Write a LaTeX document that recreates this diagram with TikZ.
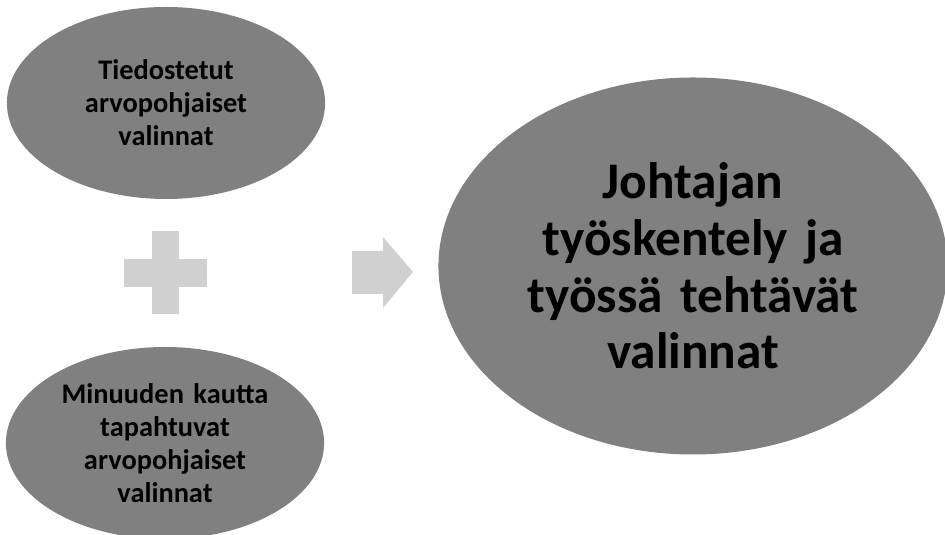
\documentclass[tikz,border=0pt]{standalone}
\usepackage{fontspec}
\setmainfont{Carlito}
\usetikzlibrary{shapes.geometric}
\definecolor{pallogray}{HTML}{808080}
\definecolor{merkkigray}{HTML}{D0D0D0}
\hyphenpenalty=10000
\exhyphenpenalty=10000

\begin{document}
\begin{tikzpicture}[x=1bp, y=1bp,
  pallo/.style={ellipse, fill=pallogray, inner sep=0pt, align=center, font=\bfseries},
  pieni/.style={pallo, text width=225bp, font=\bfseries\fontsize{28.5}{33}\selectfont},
  iso/.style={pallo, text width=360bp, font=\bfseries\fontsize{51.5}{57}\selectfont}]
\useasboundingbox (0,0) rectangle (945,535);
\clip (0,0) rectangle (945,535);
% Left side
\node[pieni, minimum width=305bp, minimum height=192bp] (tiedostetut) at (166,432) {Tiedostetut arvopohjaiset valinnat};
\node[pieni, minimum width=314bp, minimum height=192bp] (minuus) at (165,92) {Minuuden kautta tapahtuvat arvopohjaiset valinnat};
% Plus sign
\fill[merkkigray] (152,221) rectangle (179,304);
\fill[merkkigray] (124,248) rectangle (207,276);
% Arrow
\fill[merkkigray] (352,241) -- (383,241) -- (383,227) -- (413,263) -- (383,298) -- (383,284) -- (352,284) -- cycle;
% Right side
\node[iso, minimum width=504bp, minimum height=377bp] (johtaja) at (693,269) {Johtajan työskentely ja työssä tehtävät valinnat};
\end{tikzpicture}
\end{document}
